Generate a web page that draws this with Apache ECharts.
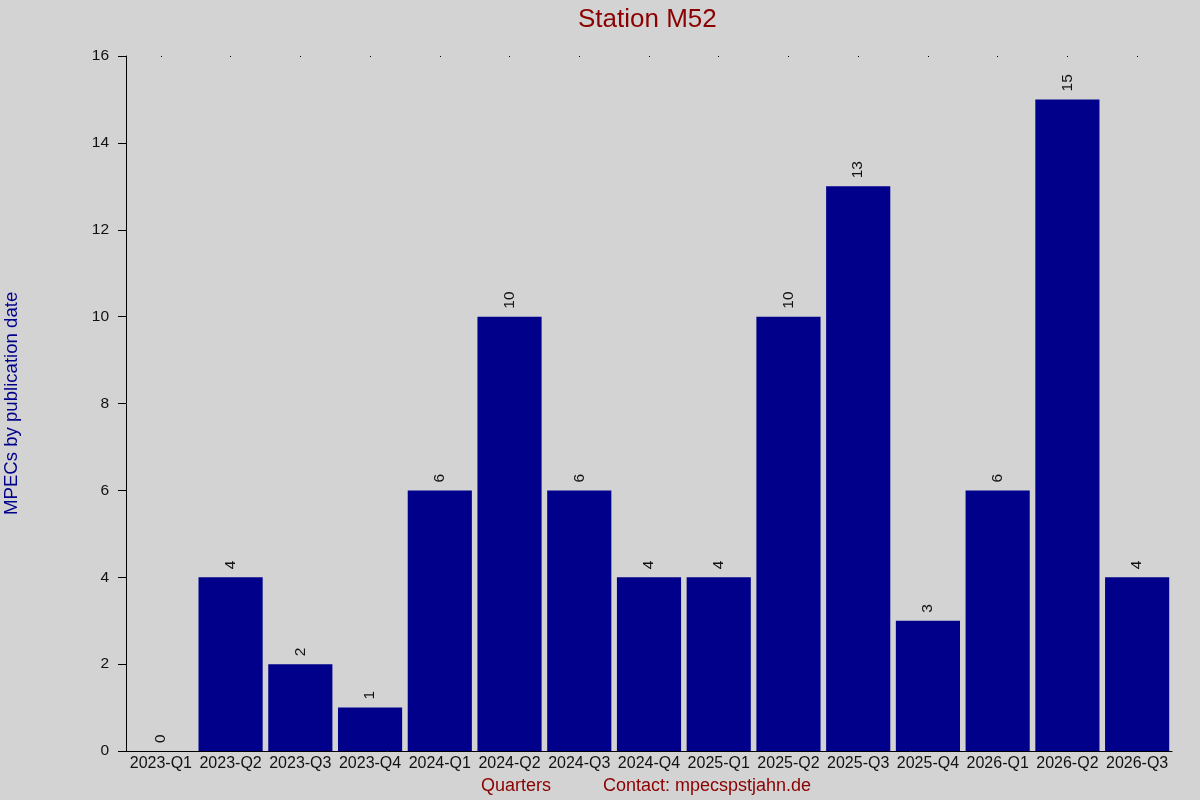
<!DOCTYPE html>
<html>
<head>
<meta charset="utf-8">
<script src="https://cdn.jsdelivr.net/npm/echarts@6/dist/echarts.min.js"></script>
<style>
html,body{margin:0;padding:0;background:#d3d3d3;}
#chart{width:1200px;height:800px;}
</style>
</head>
<body>
<div id="chart"></div>
<script>
const categories = ['2023-Q1','2023-Q2','2023-Q3','2023-Q4','2024-Q1','2024-Q2','2024-Q3','2024-Q4','2025-Q1','2025-Q2','2025-Q3','2025-Q4','2026-Q1','2026-Q2','2026-Q3'];
const mpecCounts = [0,4,2,1,6,10,6,4,4,10,13,3,6,15,4];
const yTicks = {min:0, max:16, interval:2};
const titleText = 'Station M52';
const yAxisTitle = 'MPECs by publication date';
const xAxisTitle = 'Quarters';
const contactText = 'Contact: mpecspstjahn.de';

const FONT = 'Liberation Sans, Arial, sans-serif';
const chart = echarts.init(document.getElementById('chart'));
chart.setOption({
  backgroundColor: '#d3d3d3',
  animation: false,
  title: [{
    text: titleText, left: 578, top: 7, padding: 0,
    textStyle: {color: '#8b0000', fontSize: 26, fontWeight: 'normal', fontFamily: FONT}
  }],
  graphic: [
    {type: 'text', left: 481, top: 777, style: {text: xAxisTitle, fill: '#8b0000', font: '18px ' + FONT}},
    {type: 'text', left: 603, top: 777, style: {text: contactText, fill: '#8b0000', font: '18px ' + FONT}},
    {type: 'text', rotation: Math.PI/2, x: 2, y: 515, style: {text: yAxisTitle, fill: '#00008b', font: '18.6px ' + FONT}}
  ],
  grid: {left: 126, right: 28, top: 56, bottom: 49, containLabel: false},
  xAxis: [{
    type: 'category', data: categories, position: 'bottom',
    axisLine: {show: true, lineStyle: {color: '#000', width: 1}},
    axisTick: {show: false},
    axisLabel: {color: '#111', fontSize: 16, fontFamily: FONT, margin: 5, interval: 0}
  }, {
    type: 'category', data: categories, position: 'top',
    axisLine: {show: false},
    axisTick: {show: true, alignWithLabel: true, inside: true, length: 1, lineStyle: {color: '#000', width: 1}},
    axisLabel: {show: false}
  }],
  yAxis: {
    type: 'value', min: yTicks.min, max: yTicks.max, interval: yTicks.interval,
    axisLine: {show: true, lineStyle: {color: '#000', width: 1}},
    axisTick: {show: true, length: 8, lineStyle: {color: '#000'}},
    splitLine: {show: false},
    axisLabel: {color: '#111', fontSize: 15.5, fontFamily: FONT, margin: 17}
  },
  series: [{
    type: 'bar', data: mpecCounts, barCategoryGap: '8%',
    itemStyle: {color: '#00008b'},
    label: {
      show: true, position: 'top', rotate: 90, align: 'left', verticalAlign: 'middle',
      distance: 8, color: '#111', fontSize: 15.5, fontFamily: FONT
    }
  }]
});
</script>
</body>
</html>
